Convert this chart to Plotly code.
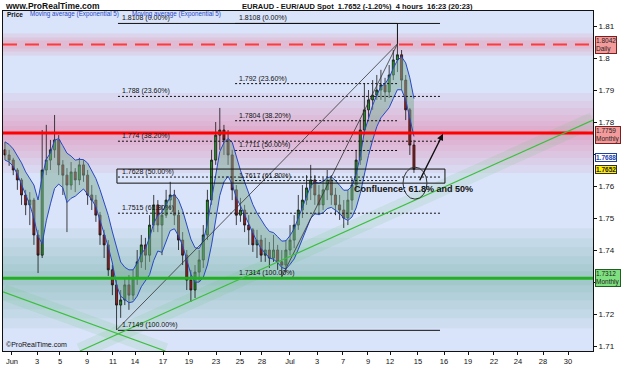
import plotly.graph_objects as go
import numpy as np

# ---------------- data ----------------
first_open = 1.7713
close = [1.7697, 1.7681, 1.7650, 1.7619, 1.7572, 1.7541, 1.7556, 1.7447, 1.7384, 1.7650,
         1.7681, 1.7713, 1.7744, 1.7666, 1.7634, 1.7603, 1.7644, 1.7619, 1.7666, 1.7634,
         1.7572, 1.7556, 1.7509, 1.7447, 1.7416, 1.7338, 1.7291, 1.7228, 1.7244, 1.7291,
         1.7259, 1.7313, 1.7363, 1.7416, 1.7384, 1.7478, 1.7541, 1.7478, 1.7509, 1.7556,
         1.7572, 1.7509, 1.7431, 1.7384, 1.7306, 1.7275, 1.7331, 1.7369, 1.7447, 1.7556,
         1.7681, 1.7759, 1.7775, 1.7744, 1.7697, 1.7588, 1.7509, 1.7525, 1.7478, 1.7463,
         1.7416, 1.7431, 1.7384, 1.7400, 1.7375, 1.7400, 1.7363, 1.7353, 1.7400, 1.7431,
         1.7478, 1.7525, 1.7556, 1.7594, 1.7619, 1.7572, 1.7541, 1.7588, 1.7619, 1.7572,
         1.7541, 1.7525, 1.7500, 1.7556, 1.7603, 1.7681, 1.7775, 1.7838, 1.7869, 1.7884,
         1.7900, 1.7916, 1.7894, 1.7947, 1.7994, 1.8010, 1.7931, 1.7838, 1.7728, 1.7652]
high = [1.7738, 1.7713, 1.7688, 1.7656, 1.7625, 1.7588, 1.7581, 1.7563, 1.7463, 1.7775,
        1.7791, 1.7744, 1.7822, 1.7759, 1.7681, 1.7656, 1.7675, 1.7656, 1.7688, 1.7681,
        1.7650, 1.7603, 1.7572, 1.7519, 1.7463, 1.7431, 1.7353, 1.7306, 1.7275, 1.7313,
        1.7322, 1.7338, 1.7400, 1.7447, 1.7438, 1.7509, 1.7572, 1.7556, 1.7541, 1.7588,
        1.7613, 1.7588, 1.7525, 1.7456, 1.7400, 1.7338, 1.7353, 1.7400, 1.7478, 1.7588,
        1.7713, 1.7800, 1.7844, 1.7791, 1.7775, 1.7713, 1.7603, 1.7563, 1.7541, 1.7509,
        1.7469, 1.7463, 1.7447, 1.7438, 1.7425, 1.7447, 1.7416, 1.7400, 1.7431, 1.7478,
        1.7509, 1.7572, 1.7603, 1.7634, 1.7666, 1.7634, 1.7603, 1.7625, 1.7650, 1.7634,
        1.7594, 1.7572, 1.7556, 1.7588, 1.7625, 1.7713, 1.7806, 1.7922, 1.7900, 1.7931,
        1.7947, 1.7963, 1.7938, 1.7978, 1.8025, 1.8044, 1.8025, 1.7947, 1.7844, 1.7744]
low = [1.7681, 1.7663, 1.7634, 1.7588, 1.7541, 1.7509, 1.7478, 1.7416, 1.7328, 1.7375,
       1.7634, 1.7650, 1.7688, 1.7634, 1.7572, 1.7456, 1.7588, 1.7581, 1.7603, 1.7613,
       1.7541, 1.7525, 1.7488, 1.7416, 1.7375, 1.7319, 1.7259, 1.7150, 1.7188, 1.7228,
       1.7213, 1.7244, 1.7291, 1.7344, 1.7338, 1.7363, 1.7456, 1.7456, 1.7384, 1.7500,
       1.7525, 1.7478, 1.7400, 1.7353, 1.7275, 1.7238, 1.7250, 1.7300, 1.7344, 1.7431,
       1.7541, 1.7666, 1.7713, 1.7697, 1.7666, 1.7556, 1.7478, 1.7488, 1.7456, 1.7416,
       1.7394, 1.7375, 1.7363, 1.7363, 1.7344, 1.7363, 1.7338, 1.7316, 1.7331, 1.7384,
       1.7406, 1.7463, 1.7500, 1.7541, 1.7556, 1.7541, 1.7509, 1.7525, 1.7556, 1.7541,
       1.7509, 1.7494, 1.7469, 1.7478, 1.7525, 1.7588, 1.7666, 1.7759, 1.7813, 1.7838,
       1.7869, 1.7869, 1.7863, 1.7875, 1.7931, 1.7956, 1.7900, 1.7806, 1.7697, 1.7641]

date_ticks = ["Jun", "3", "5", "9", "11", "14", "17", "19", "23", "25", "28", "Jul",
              "3", "7", "9", "12", "15", "16", "19", "22", "24", "28", "30"]
price_ticks = [1.71, 1.72, 1.73, 1.74, 1.75, 1.76, 1.77, 1.78, 1.79, 1.80, 1.81]
hidden_ticks = [1.73, 1.77]   # covered by value boxes in the original

# horizontal support / resistance levels
daily_res = 1.8042
monthly_res = 1.7766
monthly_res_label = 1.7759
monthly_sup = 1.7312
ema_last = 1.7688
last_price = 1.7652

# Fibonacci retracements (levels, labels)
fibA_levels = [1.8108, 1.788, 1.774, 1.7628, 1.7515, 1.7149]
fibA_text = ["1.8108 (0.00%)", "1.788 (23.60%)", "1.774 (38.20%)", "1.7628 (50.00%)",
             "1.7515 (61.80%)", "1.7149 (100.00%)"]
fibB_levels = [1.8108, 1.792, 1.7804, 1.7711, 1.7617, 1.7314]
fibB_text = ["1.8108 (0.00%)", "1.792 (23.60%)", "1.7804 (38.20%)", "1.7711 (50.00%)",
             "1.7617 (61.80%)", "1.7314 (100.00%)"]
fibA_span = [27.35, 105.3]
fibB_span = [55.7, 94.9]

# trendlines (bar index, price)
trend_up = [(18.16, 1.70844), (142.34, 1.7806)]
trend_down = [(-0.48, 1.7269), (38.8, 1.70844)]
swingA = [(27.0, 1.7150), (95.0, 1.8044)]
swingB = [(67.0, 1.7316), (95.0, 1.8044)]

n = len(close)
x = list(range(n))
opn = [first_open] + close[:-1]

def ema(vals, period):
    a = 2.0 / (period + 1)
    out = [vals[0]]
    for v in vals[1:]:
        out.append(a * v + (1 - a) * out[-1])
    return out

ema_h = ema(high, 5)
ema_l = ema(low, 5)

# ---------------- figure ----------------
XMIN, XMAX = -0.484, 142.34
YMIN, YMAX = 1.70844, 1.81469
tick_pos = [1.69, 7.75, 13.31, 19.85, 26.14, 31.47, 38.25, 44.54, 51.08, 56.89, 62.21, 68.99,
            75.53, 81.82, 87.87, 93.20, 99.97, 106.27, 112.08, 118.37, 124.18, 130.24, 136.29]

fig = go.Figure()
fig.add_trace(go.Scatter(x=x, y=ema_h, mode="lines", line=dict(color="#2848c8", width=1),
                         hoverinfo="skip", showlegend=False))
fig.add_trace(go.Scatter(x=x, y=ema_l, mode="lines", line=dict(color="#2848c8", width=1),
                         fill="tonexty", fillcolor="rgba(125,172,150,0.5)",
                         hoverinfo="skip", showlegend=False))
fig.add_trace(go.Candlestick(
    x=x, open=opn, high=high, low=low, close=close,
    increasing=dict(line=dict(color="#151515", width=0.8), fillcolor="#1f9a1f"),
    decreasing=dict(line=dict(color="#151515", width=0.8), fillcolor="#a81818"),
    whiskerwidth=0, showlegend=False, hoverinfo="skip"))

shapes = []
PX = 3200.0  # px per price unit (visual only for glow widths)

def glow(level, halfs, color):
    for h in halfs:
        shapes.append(dict(type="rect", xref="paper", yref="y", x0=0, x1=1,
                           y0=level - h / PX, y1=level + h / PX, fillcolor=color,
                           line=dict(width=0), layer="below"))

glow(daily_res, [11, 7, 4], "rgba(235,110,140,0.12)")
glow(monthly_res, [40, 32, 25, 18, 12, 7, 3], "rgba(230,110,145,0.085)")
glow(monthly_sup, [50, 40, 31, 22, 14, 7], "rgba(70,160,130,0.07)")

# green diagonal glows
for (p0, p1) in (trend_up, trend_down):
    shapes.append(dict(type="line", x0=p0[0], y0=p0[1], x1=p1[0], y1=p1[1],
                       line=dict(color="rgba(90,190,110,0.13)", width=16), layer="below"))

# Fibonacci lines
for i, lv in enumerate(fibA_levels):
    solid = i in (0, len(fibA_levels) - 1)
    shapes.append(dict(type="line", x0=fibA_span[0], x1=fibA_span[1], y0=lv, y1=lv,
                       line=dict(color="#111", width=1, dash=None if solid else "2px,2px")))
for i, lv in enumerate(fibB_levels):
    solid = i in (0, len(fibB_levels) - 1)
    shapes.append(dict(type="line", x0=fibB_span[0], x1=fibB_span[1], y0=lv, y1=lv,
                       line=dict(color="#111", width=1, dash=None if solid else "2px,2px")))
shapes.append(dict(type="line", x0=swingA[1][0], x1=swingA[1][0], y0=swingA[1][1], y1=fibA_levels[0],
                   line=dict(color="#111", width=1)))
for p in (swingA, swingB):
    shapes.append(dict(type="line", x0=p[0][0], y0=p[0][1], x1=p[1][0], y1=p[1][1],
                       line=dict(color="#333", width=0.8)))

# horizontal levels
shapes.append(dict(type="line", xref="paper", x0=0, x1=1, y0=daily_res, y1=daily_res,
                   line=dict(color="#ff3b3b", width=2, dash="14px,8px")))
shapes.append(dict(type="line", xref="paper", x0=0, x1=1, y0=monthly_res, y1=monthly_res,
                   line=dict(color="#ff0000", width=3)))
shapes.append(dict(type="line", xref="paper", x0=0, x1=1, y0=monthly_sup, y1=monthly_sup,
                   line=dict(color="#22b022", width=3)))
for (p0, p1) in (trend_up, trend_down):
    shapes.append(dict(type="line", x0=p0[0], y0=p0[1], x1=p1[0], y1=p1[1],
                       line=dict(color="#3cbf3c", width=1.2)))

# confluence box and circle
shapes.append(dict(type="rect", x0=27.1, x1=106.5, y0=1.7609, y1=1.7653,
                   line=dict(color="#111", width=1)))
shapes.append(dict(type="circle", x0=96.35, x1=102.15, y0=1.7559, y1=1.7659,
                   line=dict(color="#333", width=1)))

annotations = []
F = "Arial, Liberation Sans, sans-serif"
for lv, t in zip(fibA_levels, fibA_text):
    annotations.append(dict(x=fibA_span[0] + 0.5, y=lv, text=t, showarrow=False, xanchor="left",
                            yanchor="bottom", font=dict(size=7, color="#111", family=F), yshift=-1))
for lv, t in zip(fibB_levels, fibB_text):
    annotations.append(dict(x=fibB_span[0] + 0.5, y=lv, text=t, showarrow=False, xanchor="left",
                            yanchor="bottom", font=dict(size=7, color="#111", family=F), yshift=-1))

annotations.append(dict(x=106.03, y=1.7763, ax=100.2, ay=1.7613, axref="x", ayref="y",
                        showarrow=True, arrowhead=2, arrowsize=1, arrowwidth=1.3, arrowcolor="#111", text=""))
annotations.append(dict(x=84.0, y=1.7590, text="<b>Confluence: 61.8% and 50%</b>", showarrow=False,
                        xanchor="left", yanchor="middle", font=dict(size=9, color="#111", family=F)))

# right side value boxes
def vbox(y, text, bg, border, color="#222"):
    annotations.append(dict(xref="paper", x=1.004, y=y, yref="y", text=text, showarrow=False,
                            xanchor="left", yanchor="middle", align="left", bgcolor=bg,
                            bordercolor=border, borderwidth=1, borderpad=0,
                            font=dict(size=6.5, color=color, family=F)))

vbox(daily_res, "%.4f<br>Daily" % daily_res, "#f59a9a", "#7a2020")
vbox(ema_last, "<b>%.4f</b>" % ema_last, "#ffffff", "#2040a0", "#2040b0")
vbox(monthly_res_label, "%.4f<br>Monthly" % monthly_res_label, "#f59a9a", "#7a2020")
vbox(last_price, "<b>%.4f</b>" % last_price, "#ffee00", "#303030")
vbox(monthly_sup, "%.4f<br>Monthly" % monthly_sup, "#7fe07f", "#206020")

# header texts
def ptext(px, py, text, size, color="#111", anchor="left"):
    annotations.append(dict(xref="paper", yref="paper", x=(px - 3) / 590.0, y=(351 - py) / 340.0,
                            text=text, showarrow=False, xanchor=anchor, yanchor="middle",
                            font=dict(size=size, color=color, family=F)))

ptext(3, 6, "<b>www.ProRealTime.com</b>", 8.5)
ptext(240, 6, "<b>EURAUD - EUR/AUD Spot  1.7652 (-1.20%)  4 hours  16:23 (20:23)</b>", 7.5)
ptext(5, 14.5, "<b>Price</b>", 6.5)
ptext(28, 14.5, "Moving average (Exponential 5)", 6.3, "#2848c8")
ptext(130, 14.5, "Moving average (Exponential 5)", 6.3, "#2848c8")
ptext(4, 344, "©ProRealTime.com", 7)

fig.update_layout(
    width=625, height=375,
    margin=dict(l=3, r=32, t=11, b=24),
    paper_bgcolor="#ffffff", plot_bgcolor="#d9e3f9",
    shapes=shapes, annotations=annotations,
    showlegend=False,
    xaxis=dict(range=[XMIN, XMAX], tickvals=tick_pos, ticktext=date_ticks, ticks="outside",
               ticklen=3, tickcolor="#111", showgrid=False, zeroline=False, showline=True,
               linecolor="#111", mirror=True, rangeslider=dict(visible=False),
               tickfont=dict(size=7.5, color="#111", family=F)),
    yaxis=dict(range=[YMIN, YMAX], side="right", tickvals=price_ticks,
               ticktext=["" if v in hidden_ticks else "%g" % v for v in price_ticks],
               ticks="outside", ticklen=3,
               tickcolor="#111", showgrid=False, zeroline=False, showline=True, linecolor="#111",
               mirror=True, tickfont=dict(size=8, color="#111", family=F)),
)

fig.write_html("out.html")
